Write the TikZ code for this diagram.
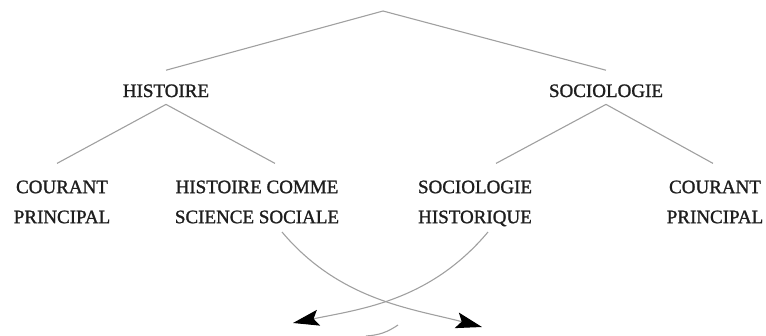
\documentclass[tikz,border=0pt]{standalone}
\usepackage{fontspec}
\setmainfont[FakeBold=1.3]{Liberation Serif}
\usetikzlibrary{arrows.meta}
\definecolor{linegray}{HTML}{A0A0A0}
\definecolor{textgray}{HTML}{1E1E1E}
\begin{document}
\begin{tikzpicture}[x=1pt,y=-1pt,
  link/.style={draw=linegray,line width=1.1pt},
  head/.style={inner sep=0pt,anchor=base,text=textgray,font=\fontsize{19}{30}\selectfont},
  leaf/.style={inner sep=0pt,anchor=north,align=center,text=textgray,font=\fontsize{19}{30}\selectfont},
  cross/.style={link,-{Stealth[length=26pt,width=16pt,inset=5pt,color=black]}}]
\useasboundingbox (0,0) rectangle (766,335);
\coordinate (top) at (383,11);
\node[head] (hist) at (166,97) {HISTOIRE};
\node[head] (soc) at (606,97) {SOCIOLOGIE};
\node[leaf] (cp1) at (62,180.4) {COURANT\\PRINCIPAL};
\node[leaf] (hcs) at (257,180.4) {HISTOIRE COMME\\SCIENCE SOCIALE};
\node[leaf] (sh) at (475,180.4) {SOCIOLOGIE\\HISTORIQUE};
\node[leaf] (cp2) at (715,180.4) {COURANT\\PRINCIPAL};
\draw[link] (top) -- ([yshift=14pt]hist.north);
\draw[link] (top) -- ([yshift=14pt]soc.north);
\draw[link] ([yshift=-7pt]hist.south) -- ([xshift=-5pt,yshift=17pt]cp1.north);
\draw[link] ([yshift=-7pt]hist.south) -- ([xshift=18pt,yshift=17pt]hcs.north);
\draw[link] ([yshift=-7pt]soc.south) -- ([xshift=21pt,yshift=17pt]sh.north);
\draw[link] ([yshift=-7pt]soc.south) -- ([xshift=-2pt,yshift=17pt]cp2.north);
\coordinate (a0) at (282,232);
\coordinate (a1) at (482,327);
\coordinate (b0) at (488,232);
\coordinate (b1) at (293,323);
\draw[cross] (a0) .. controls (340,301) and (414,309) .. (a1);
\draw[cross] (b0) .. controls (430,301) and (361,309) .. (b1);
\coordinate (c0) at (366,336);
\coordinate (c1) at (398,325);
\draw[link] (c0) to[bend right=15] (c1);
\end{tikzpicture}
\end{document}
